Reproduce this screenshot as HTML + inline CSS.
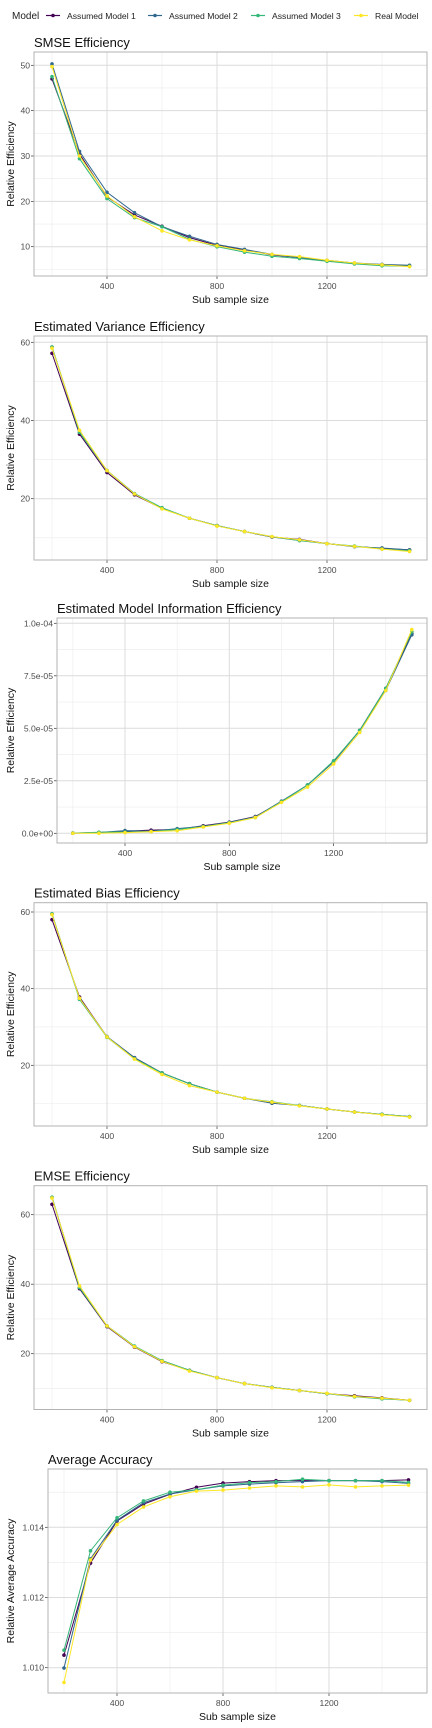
<!DOCTYPE html>
<html><head><meta charset="utf-8"><style>
body{margin:0;background:#fff;}
svg{display:block;font-family:"Liberation Sans",Arial,sans-serif;}
</style></head><body>
<svg id="chart" width="432" height="1728" viewBox="0 0 432 1728">
<g id="legend"></g>
</svg>
<script>
const xs = [200,300,400,500,600,700,800,900,1000,1100,1200,1300,1400,1500];
const seriesNames = ["Assumed Model 1","Assumed Model 2","Assumed Model 3","Real Model"];
const colors = ["#440154","#31688E","#35B779","#FDE725"];
const xTicks = [400,800,1200];

const smseM1 = [47,30.5,21,17,14.5,12,10.3,9.3,8.2,7.6,6.9,6.3,6.0,5.8];
const smseM2 = [50.3,31,22,17.5,14.4,12.3,10.5,9.4,8.3,7.6,7.0,6.4,6.1,5.9];
const smseM3 = [47.5,29.4,20.6,16.4,14.4,11.6,10.0,8.8,7.9,7.4,6.8,6.2,5.8,5.7];
const smseReal = [49.7,30,21.2,16.6,13.5,11.5,10.2,9.1,8.3,7.8,7.0,6.4,6.0,5.6];

const varM1 = [57.2,36.5,26.7,21.0,17.5,15.0,13.1,11.6,10.2,9.6,8.5,7.8,7.3,6.9];
const varM2 = [58.8,37,27.2,21.3,17.6,15.0,13.1,11.6,10.2,9.3,8.5,7.7,7.4,6.9];
const varM3 = [58.8,37,27.2,21.3,17.7,15.0,13.1,11.6,10.3,9.3,8.5,7.9,7.1,6.7];
const varReal = [58.5,37.5,27.2,21.2,17.4,15.0,13.0,11.6,10.3,9.5,8.5,7.8,7.1,6.5];

const infoM1 = [0.05,0.3,1.0,1.5,1.8,3.6,5.3,8.0,15,23,34,49,69,95].map(v=>v*1e-6);
const infoM2 = [0.1,0.4,1.3,1.0,2.2,3.3,5.2,7.8,15.3,23,34,49,68,94.5].map(v=>v*1e-6);
const infoM3 = [0.1,0.5,0.6,0.8,1.8,3.2,5.0,7.5,15,23,34.5,49,69,96].map(v=>v*1e-6);
const infoReal = [0,0,0.3,0.8,1.2,3.0,4.8,7.5,14.7,22,33,48,68,97].map(v=>v*1e-6);

const biasM1 = [58,37.8,27.4,22,18,15.2,13,11.4,10.2,9.5,8.6,7.8,7.2,6.6];
const biasM2 = [59.5,37.3,27.5,22,18,15.2,13,11.4,10.1,9.5,8.6,7.8,7.2,6.6];
const biasM3 = [59.5,37.2,27.3,21.7,18,15.2,13,11.4,10.5,9.5,8.6,7.8,7.2,6.6];
const biasReal = [59.3,37.5,27.4,21.6,17.6,14.7,13,11.4,10.4,9.4,8.6,7.8,7.1,6.5];

const emseM1 = [63,38.7,27.8,21.9,17.7,15.2,13.1,11.4,10.3,9.4,8.5,7.9,7.3,6.6];
const emseM2 = [65,39,28,22.1,18,15.2,13.1,11.4,10.3,9.4,8.5,7.7,7.1,6.6];
const emseM3 = [65,39,28,22.2,18,15.2,13.1,11.4,10.3,9.4,8.5,7.6,7.0,6.6];
const emseReal = [64.8,39.5,28,22,17.8,15,13.1,11.4,10.2,9.4,8.6,7.7,7.2,6.6];

const accM1 = [1.01036,1.01298,1.01418,1.01466,1.01494,1.01514,1.01526,1.01530,1.01533,1.01533,1.01533,1.01533,1.01533,1.01535];
const accM2 = [1.00999,1.01310,1.01420,1.01470,1.01495,1.01507,1.01518,1.01523,1.01527,1.01530,1.01533,1.01533,1.01530,1.01525];
const accM3 = [1.01050,1.01333,1.01427,1.01475,1.01500,1.01507,1.01520,1.01527,1.01530,1.01537,1.01533,1.01533,1.01533,1.01528];
const accReal = [1.00958,1.01307,1.01408,1.01458,1.01487,1.01503,1.01506,1.01512,1.01518,1.01515,1.01521,1.01515,1.01518,1.01520];

const ticksA = [10,20,30,40,50];
const ticksB = [20,40,60];
const ticksInfo = [0,2.5e-5,5e-5,7.5e-5,1e-4];
const labelsInfo = ["0.0e+00","2.5e-05","5.0e-05","7.5e-05","1.0e-04"];
const ticksAcc = [1.010,1.012,1.014];

const NS="http://www.w3.org/2000/svg";
const svg=document.getElementById('chart');
function mk(tag,attrs,parent){const e=document.createElementNS(NS,tag);for(const k in attrs)e.setAttribute(k,attrs[k]);(parent||svg).appendChild(e);return e;}

const lg=document.getElementById('legend');
let t=mk('text',{x:12,y:19,'font-size':10,fill:'#222'},lg);t.textContent='Model';
const kx=[46,148,251,354];
seriesNames.forEach((n,i)=>{
  const g=mk('g',{},lg);
  
  
  mk('line',{x1:kx[i],x2:kx[i]+14,y1:15.5,y2:15.5,stroke:colors[i],'stroke-width':1.2},g);
  mk('circle',{cx:kx[i]+7,cy:15.5,r:1.8,fill:colors[i]},g);
  const tx=mk('text',{x:kx[i]+21,y:19,'font-size':8.6,fill:'#222'},g);tx.textContent=n;
});

const panels=[
 {name:'smse',title:'SMSE Efficiency',left:34,top:52,bottom:276,xa:[400,107],xb:[800,217],ya:[50,65.3],yb:[10,246.7],ticks:ticksA,labels:null,minor:[5,15,25,35,45],ylab:'Relative Efficiency',data:[smseM1,smseM2,smseM3,smseReal]},
 {name:'variance',title:'Estimated Variance Efficiency',left:34,top:336,bottom:560,xa:[400,107],xb:[800,217],ya:[60,342.3],yb:[20,498.7],ticks:ticksB,labels:null,minor:[10,30,50],ylab:'Relative Efficiency',data:[varM1,varM2,varM3,varReal]},
 {name:'model-information',title:'Estimated Model Information Efficiency',left:57,top:618,bottom:843,xa:[400,125],xb:[800,229.3],ya:[1e-4,623.3],yb:[0,833.3],ticks:ticksInfo,labels:labelsInfo,minor:[1.25e-5,3.75e-5,6.25e-5,8.75e-5],ylab:'Relative Efficiency',data:[infoM1,infoM2,infoM3,infoReal]},
 {name:'bias',title:'Estimated Bias Efficiency',left:34,top:902.7,bottom:1126,xa:[400,107],xb:[800,217],ya:[60,912],yb:[20,1065.3],ticks:ticksB,labels:null,minor:[10,30,50],ylab:'Relative Efficiency',data:[biasM1,biasM2,biasM3,biasReal]},
 {name:'emse',title:'EMSE Efficiency',left:34,top:1185.7,bottom:1409.5,xa:[400,107],xb:[800,217],ya:[60,1214.7],yb:[20,1353.7],ticks:ticksB,labels:null,minor:[10,30,50],ylab:'Relative Efficiency',data:[emseM1,emseM2,emseM3,emseReal]},
 {name:'accuracy',title:'Average Accuracy',left:48,top:1469,bottom:1693,xa:[400,117],xb:[800,223],ya:[1.014,1527.3],yb:[1.010,1667.7],ticks:ticksAcc,labels:['1.010','1.012','1.014'],minor:[1.011,1.013,1.015],ylab:'Relative Average Accuracy',data:[accM1,accM2,accM3,accReal]}
];
const right=427;
panels.forEach(p=>{
  const g=mk('g',{});
  
  
  const X=v=>p.xa[1]+(v-p.xa[0])*(p.xb[1]-p.xa[1])/(p.xb[0]-p.xa[0]);
  const Y=v=>p.ya[1]+(v-p.ya[0])*(p.yb[1]-p.ya[1])/(p.yb[0]-p.ya[0]);
  const tt=mk('text',{x:p.left,y:p.top-5,'font-size':13,fill:'#111'},g);tt.textContent=p.title;
  
  
  p.minor.forEach(v=>mk('line',{x1:p.left,x2:right,y1:Y(v),y2:Y(v),stroke:'#ebebeb','stroke-width':0.6},g));
  [200,600,1000,1400].forEach(v=>mk('line',{x1:X(v),x2:X(v),y1:p.top,y2:p.bottom,stroke:'#ebebeb','stroke-width':0.6},g));
  p.ticks.forEach((v,i)=>{
    mk('line',{x1:p.left,x2:right,y1:Y(v),y2:Y(v),stroke:'#dcdcdc','stroke-width':1},g);
    mk('line',{x1:p.left-3,x2:p.left,y1:Y(v),y2:Y(v),stroke:'#333','stroke-width':0.7},g);
    const l=mk('text',{x:p.left-4,y:Y(v)+3,'font-size':8.6,fill:'#4d4d4d','text-anchor':'end'},g);
    l.textContent=p.labels?p.labels[i]:String(v);
  });
  xTicks.forEach(v=>{
    mk('line',{x1:X(v),x2:X(v),y1:p.top,y2:p.bottom,stroke:'#dcdcdc','stroke-width':1},g);
    mk('line',{x1:X(v),x2:X(v),y1:p.bottom,y2:p.bottom+3,stroke:'#333','stroke-width':0.7},g);
    const l=mk('text',{x:X(v),y:p.bottom+13,'font-size':8.6,fill:'#4d4d4d','text-anchor':'middle'},g);l.textContent=String(v);
  });
  mk('rect',{x:p.left,y:p.top,width:right-p.left,height:p.bottom-p.top,fill:'none',stroke:'#b3b3b3','stroke-width':1},g);
  const xl=mk('text',{x:(p.left+right)/2,y:p.bottom+27,'font-size':10.5,fill:'#111','text-anchor':'middle'},g);xl.textContent='Sub sample size';
  
  
  const cy=(p.top+p.bottom)/2;
  const yl=mk('text',{x:11,y:cy,'font-size':10.5,fill:'#111','text-anchor':'middle',transform:`rotate(-90 11 ${cy})`,dy:'3'},g);yl.textContent=p.ylab;
  
  
  p.data.forEach((arr,si)=>{
    const s=mk('g',{},g);
    
    
    mk('polyline',{points:arr.map((v,i)=>X(xs[i])+','+Y(v)).join(' '),fill:'none',stroke:colors[si],'stroke-width':1},s);
    arr.forEach((v,i)=>{
      const c=mk('circle',{cx:X(xs[i]),cy:Y(v),r:1.8,fill:colors[si]},s);
      
      
    });
  });
});
</script>
</body></html>
